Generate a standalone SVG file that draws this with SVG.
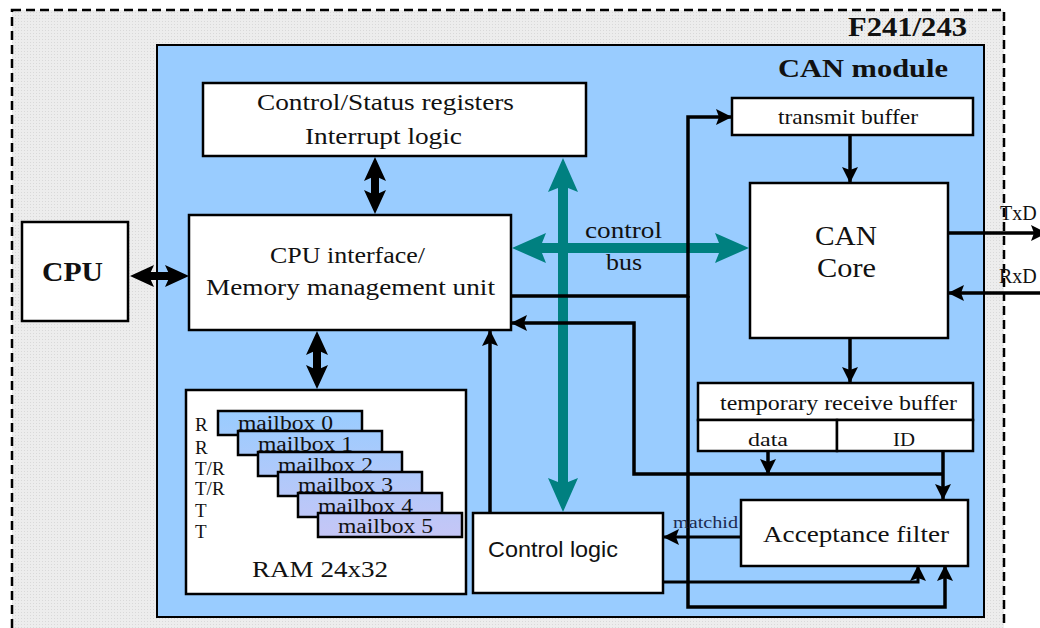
<svg xmlns="http://www.w3.org/2000/svg" width="1040" height="628" viewBox="0 0 1040 628">
<style>
.box{fill:#fff;stroke:#000;stroke-width:2.5}
.t{font-family:"Liberation Serif","Times New Roman",serif;fill:#111}
.tb{font-family:"Liberation Serif","Times New Roman",serif;font-weight:bold;fill:#111}
.ts{font-family:"Liberation Sans",Arial,sans-serif;fill:#111}
.ln{fill:none;stroke:#000;stroke-width:3.5;stroke-linejoin:miter}
.thin{fill:none;stroke:#000;stroke-width:3;stroke-linejoin:miter}
.dbl{fill:none;stroke:#000;stroke-width:8}
.teal{fill:none;stroke:#008080;stroke-width:10}
.mb{stroke:#000;stroke-width:2.5;fill:url(#mbg)}
</style>
<defs>
<pattern id="tex" width="3" height="3" patternUnits="userSpaceOnUse">
<rect width="3" height="3" fill="#ededed"/>
<rect width="1" height="1" fill="#d9d9d9"/>
</pattern>
<linearGradient id="mbg" gradientUnits="userSpaceOnUse" x1="0" y1="411" x2="0" y2="538">
<stop offset="0" stop-color="#99ccff"/>
<stop offset="1" stop-color="#c6c6f6"/>
</linearGradient>
<marker id="ah" markerUnits="userSpaceOnUse" markerWidth="16" markerHeight="16" refX="15" refY="8" orient="auto">
<path d="M0,0 L16,8 L0,16 L3,8 z" fill="#000"/>
</marker>
<marker id="ahd" markerUnits="userSpaceOnUse" markerWidth="26" markerHeight="24" refX="5" refY="11" orient="auto-start-reverse">
<path d="M0,0 L24,11 L0,22 L5,11 z" fill="#000"/>
</marker>
<marker id="aht" markerUnits="userSpaceOnUse" markerWidth="36" markerHeight="32" refX="6" refY="15" orient="auto-start-reverse">
<path d="M0,0 L34,15 L0,30 L6,15 z" fill="#008080"/>
</marker>
</defs>
<rect x="0" y="0" width="1040" height="628" fill="#fff"/>
<rect id="f241" x="12" y="10" width="992" height="640" fill="url(#tex)" stroke="#000" stroke-width="2.5" stroke-dasharray="9 5"/>
<text class="tb" x="967" y="36" font-size="27" text-anchor="end" textLength="119" lengthAdjust="spacingAndGlyphs">F241/243</text>
<g id="can-module">
<rect x="157" y="45" width="827" height="572" fill="#99ccff" stroke="#000" stroke-width="2"/>
<text class="tb" x="778" y="77" font-size="25" textLength="170" lengthAdjust="spacingAndGlyphs">CAN module</text>
</g>
<g id="cpu">
<rect class="box" x="22" y="222" width="106" height="99"/>
<text class="tb" x="42" y="281" font-size="28" textLength="61" lengthAdjust="spacingAndGlyphs">CPU</text>
</g>
<g id="ctrl-status">
<rect class="box" x="203" y="83" width="383" height="73"/>
<text class="t" x="257" y="110" font-size="23" textLength="257" lengthAdjust="spacingAndGlyphs">Control/Status registers</text>
<text class="t" x="305" y="144" font-size="23" textLength="157" lengthAdjust="spacingAndGlyphs">Interrupt logic</text>
</g>
<g id="cpu-if">
<rect class="box" x="189" y="215" width="322" height="115"/>
<text class="t" x="270" y="263" font-size="24" textLength="155" lengthAdjust="spacingAndGlyphs">CPU interface/</text>
<text class="t" x="206" y="295" font-size="24" textLength="289" lengthAdjust="spacingAndGlyphs">Memory management unit</text>
</g>
<g id="ram">
<rect class="box" x="186" y="390" width="280" height="204"/>
<rect class="mb" x="218" y="411" width="144" height="24"/>
<text class="t" x="238" y="430" font-size="20" textLength="95" lengthAdjust="spacingAndGlyphs">mailbox 0</text>
<rect class="mb" x="238" y="431" width="144" height="24"/>
<text class="t" x="258" y="451" font-size="20" textLength="95" lengthAdjust="spacingAndGlyphs">mailbox 1</text>
<rect class="mb" x="258" y="452" width="144" height="24"/>
<text class="t" x="278" y="472" font-size="20" textLength="95" lengthAdjust="spacingAndGlyphs">mailbox 2</text>
<rect class="mb" x="278" y="472" width="144" height="24"/>
<text class="t" x="298" y="492" font-size="20" textLength="95" lengthAdjust="spacingAndGlyphs">mailbox 3</text>
<rect class="mb" x="298" y="493" width="144" height="24"/>
<text class="t" x="318" y="513" font-size="20" textLength="95" lengthAdjust="spacingAndGlyphs">mailbox 4</text>
<rect class="mb" x="318" y="513" width="144" height="24"/>
<text class="t" x="338" y="533" font-size="20" textLength="95" lengthAdjust="spacingAndGlyphs">mailbox 5</text>
<text class="t" x="195" y="431" font-size="19">R</text>
<text class="t" x="195" y="454" font-size="19">R</text>
<text class="t" x="195" y="475" font-size="19">T/R</text>
<text class="t" x="195" y="495" font-size="19">T/R</text>
<text class="t" x="195" y="517" font-size="19">T</text>
<text class="t" x="195" y="538" font-size="19">T</text>
<text class="t" x="252" y="577" font-size="23" textLength="136" lengthAdjust="spacingAndGlyphs">RAM 24x32</text>
</g>
<g id="control-logic">
<rect class="box" x="473" y="513" width="190" height="80"/>
<text class="ts" x="488" y="557" font-size="22" textLength="130" lengthAdjust="spacingAndGlyphs">Control logic</text>
</g>
<g id="transmit-buffer">
<rect class="box" x="732" y="98" width="241" height="37"/>
<text class="t" x="778" y="124" font-size="21" textLength="140" lengthAdjust="spacingAndGlyphs">transmit buffer</text>
</g>
<g id="can-core">
<rect class="box" x="750" y="183" width="198" height="155"/>
<text class="t" x="815" y="245" font-size="28" textLength="62" lengthAdjust="spacingAndGlyphs">CAN</text>
<text class="t" x="817" y="277" font-size="28" textLength="59" lengthAdjust="spacingAndGlyphs">Core</text>
</g>
<g id="temp-receive-buffer">
<rect class="box" x="698" y="383" width="275" height="37"/>
<rect class="box" x="698" y="420" width="139" height="31"/>
<rect class="box" x="837" y="420" width="136" height="31"/>
<text class="t" x="720" y="410" font-size="21" textLength="237" lengthAdjust="spacingAndGlyphs">temporary receive buffer</text>
<text class="t" x="748" y="446" font-size="19" textLength="40" lengthAdjust="spacingAndGlyphs">data</text>
<text class="t" x="893" y="446" font-size="19" textLength="22" lengthAdjust="spacingAndGlyphs">ID</text>
</g>
<g id="acceptance-filter">
<rect class="box" x="741" y="500" width="227" height="66"/>
<text class="t" x="763" y="542" font-size="24" textLength="186" lengthAdjust="spacingAndGlyphs">Acceptance filter</text>
</g>
<g id="connectors">
<line class="dbl" x1="149" y1="276" x2="170" y2="276" marker-start="url(#ahd)" marker-end="url(#ahd)"/>
<line class="dbl" x1="375" y1="176" x2="375" y2="195" marker-start="url(#ahd)" marker-end="url(#ahd)"/>
<line class="dbl" x1="317" y1="350" x2="317" y2="370" marker-start="url(#ahd)" marker-end="url(#ahd)"/>
<line class="teal" x1="540" y1="248" x2="721" y2="248" marker-start="url(#aht)" marker-end="url(#aht)"/>
<line class="teal" x1="563" y1="186" x2="563" y2="484" marker-start="url(#aht)" marker-end="url(#aht)"/>
<path class="ln" d="M511,296 H688 V117 H731" marker-end="url(#ah)"/>
<path class="ln" d="M688,296 V607 H945 V566" marker-end="url(#ah)"/>
<path class="ln" d="M850,135 V182" marker-end="url(#ah)"/>
<path class="ln" d="M850,338 V382" marker-end="url(#ah)"/>
<path class="ln" d="M948,233 H1046" marker-end="url(#ah)"/>
<path class="ln" d="M1040,293 H949" marker-end="url(#ah)"/>
<path class="ln" d="M768,451 V474" marker-end="url(#ah)"/>
<path class="ln" d="M943,451 V499" marker-end="url(#ah)"/>
<path class="ln" d="M943,474 H634 V323 H512" marker-end="url(#ah)"/>
<path class="ln" d="M490,513 V331" marker-end="url(#ah)"/>
<path class="thin" d="M741,537 H664" marker-end="url(#ah)"/>
<path class="thin" d="M663,582 H918 V566" marker-end="url(#ah)"/>
<text class="t" x="673" y="528" font-size="16" textLength="65" lengthAdjust="spacingAndGlyphs" style="fill:#1c2a50">matchid</text>
<text class="t" x="585" y="238" font-size="24" textLength="77" lengthAdjust="spacingAndGlyphs">control</text>
<text class="t" x="606" y="270" font-size="24" textLength="36" lengthAdjust="spacingAndGlyphs">bus</text>
<text class="t" x="1000" y="220" font-size="20">TxD</text>
<text class="t" x="999" y="283" font-size="20">RxD</text>
</g>
</svg>
